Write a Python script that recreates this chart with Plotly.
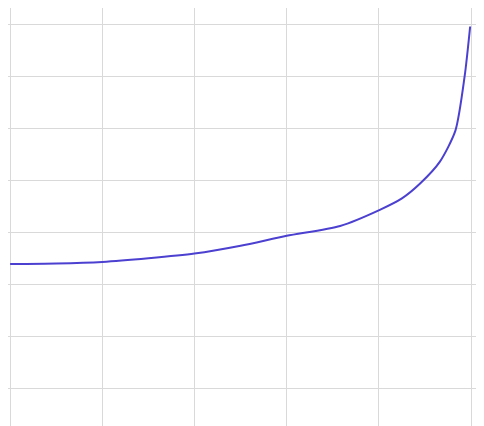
import plotly.graph_objects as go

x_vals = [0, 0.5, 1, 1.5, 2, 2.5, 3, 3.58, 4.01, 4.25, 4.45, 4.66, 4.83, 4.93, 4.99]
y_vals = [2.40, 2.41, 2.44, 2.51, 2.60, 2.75, 2.94, 3.13, 3.44, 3.66, 3.95, 4.36, 4.96, 6.0, 6.96]

fig = go.Figure()
fig.add_trace(go.Scatter(x=x_vals, y=y_vals, mode='lines',
                         line=dict(color='#4b40d0', width=2, shape='spline', smoothing=0.7)))
fig.update_layout(
    width=484, height=426, margin=dict(l=0, r=0, t=0, b=0),
    plot_bgcolor='white', paper_bgcolor='white', showlegend=False,
    xaxis=dict(range=[-0.023, 5.227], dtick=1, showticklabels=False,
               gridcolor='#d9d9d9', zeroline=False),
    yaxis=dict(range=[-0.865, 7.315], dtick=1, showticklabels=False,
               gridcolor='#d9d9d9', zeroline=False),
)
fig.write_html("out.html")
